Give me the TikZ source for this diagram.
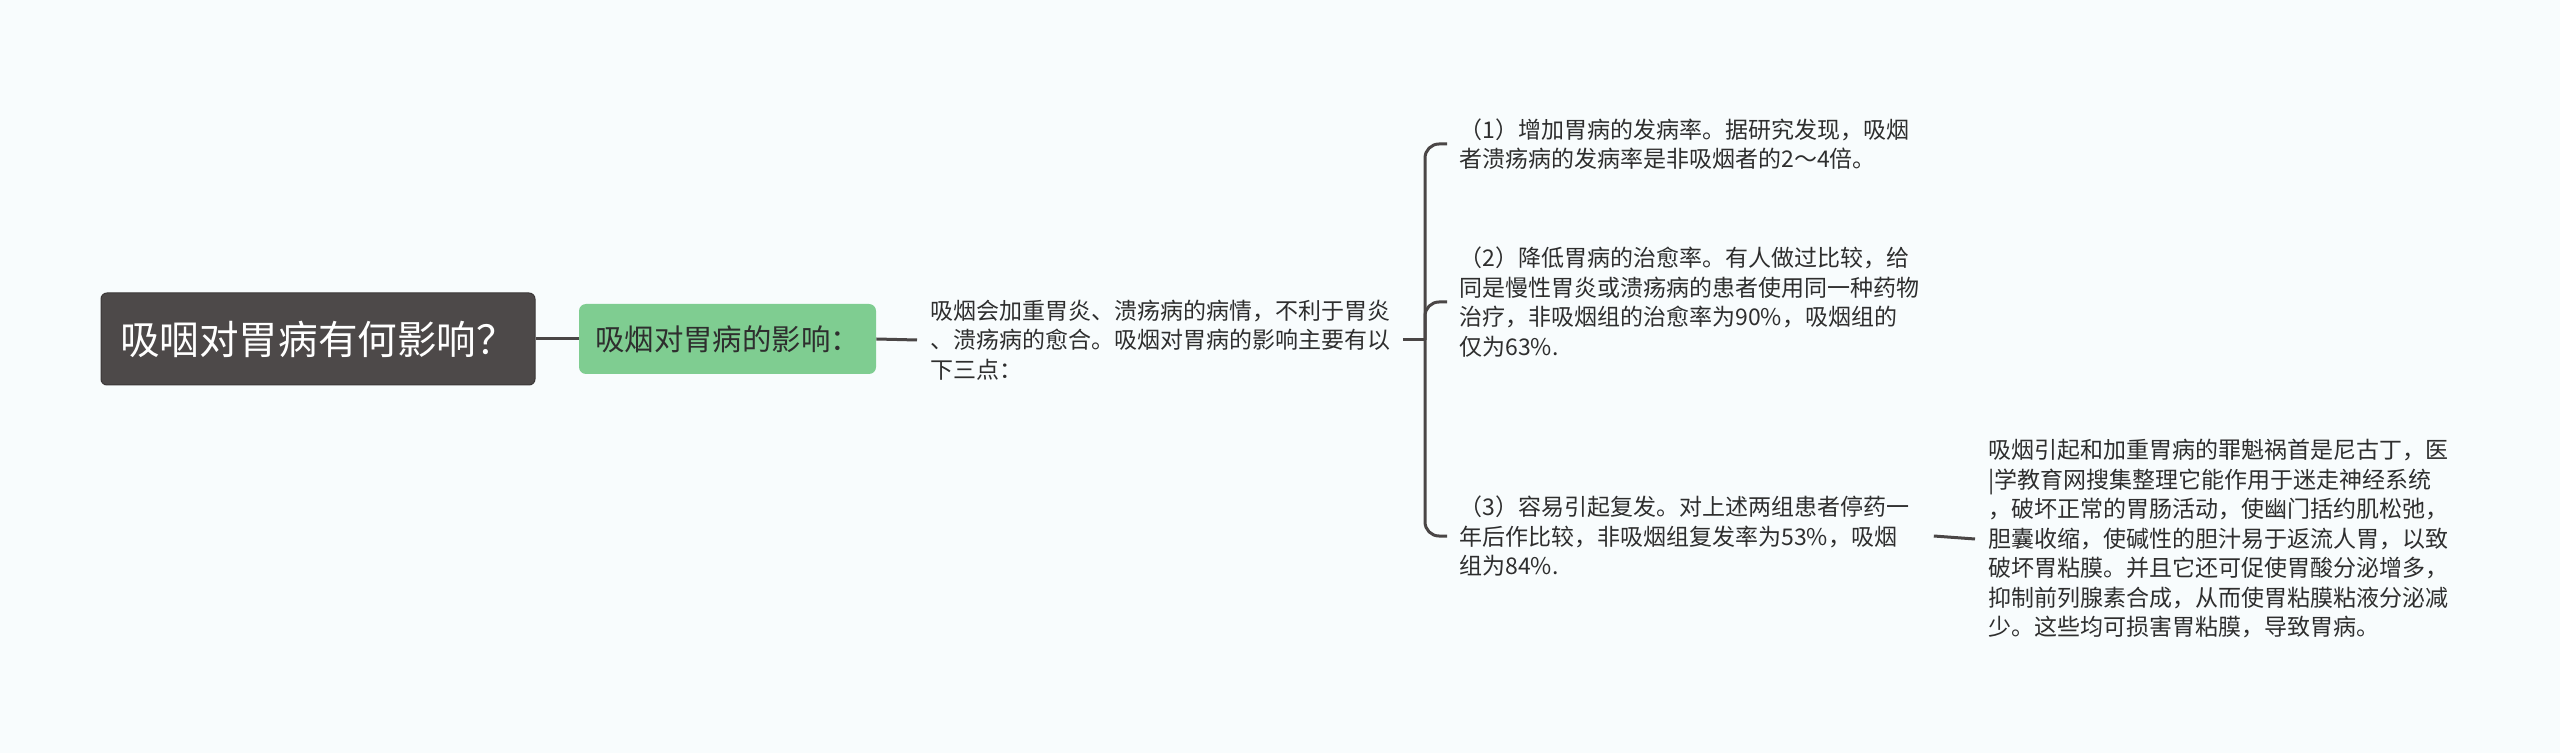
\documentclass[tikz,border=0pt]{standalone}
\usepackage{fontspec}
\setmainfont{Noto Sans CJK SC}
\definecolor{bgc}{HTML}{F8FCFD}
\definecolor{rootfill}{HTML}{4D4949}
\definecolor{rootdraw}{HTML}{3C3838}
\definecolor{greenfill}{HTML}{7FCD91}
\definecolor{linec}{HTML}{4A4646}
\definecolor{txtc}{HTML}{2E2E2E}
\begin{document}
\begin{tikzpicture}[x=0.5pt,y=-0.5pt,
  rootbox/.style={rectangle, rounded corners=3pt, fill=rootfill, draw=rootdraw, line width=0.5pt,
    minimum width=217pt, minimum height=46pt, inner sep=0pt, text=white,
    font=\fontsize{19.8pt}{23pt}\selectfont},
  greenbox/.style={rectangle, rounded corners=3.5pt, fill=greenfill, draw=none,
    minimum width=148.5pt, minimum height=35pt, inner sep=0pt, text=txtc,
    font=\fontsize{14.7pt}{17pt}\selectfont},
  bodytext/.style={anchor=west, inner sep=0pt, text width=230pt, align=left, text=txtc,
    font=\fontsize{11.5pt}{14.75pt}\selectfont},
  conn/.style={draw=linec, line width=1.5pt},
  brk/.style={conn, rounded corners=7pt}]
\useasboundingbox[fill=bgc] (0,0) rectangle (2560,753);
\node[rootbox] (root) at (318,339) {吸咽对胃病有何影响？};
\node[greenbox] (green) at (727.5,339) {吸烟对胃病的影响：};
\node[bodytext] (t3) at (930,340) {吸烟会加重胃炎、溃疡病的病情，不利于胃炎\\、溃疡病的愈合。吸烟对胃病的影响主要有以\\下三点：};
\node[bodytext] (n1) at (1459,144) {（1）增加胃病的发病率。据研究发现，吸烟\\者溃疡病的发病率是非吸烟者的2～4倍。};
\node[bodytext] (n2) at (1459,302) {（2）降低胃病的治愈率。有人做过比较，给\\同是慢性胃炎或溃疡病的患者使用同一种药物\\治疗，非吸烟组的治愈率为90\%，吸烟组的\\仅为63\%.};
\node[bodytext] (n3) at (1459,536) {（3）容易引起复发。对上述两组患者停药一\\年后作比较，非吸烟组复发率为53\%，吸烟\\组为84\%.};
\node[bodytext] (n4) at (1988,539) {吸烟引起和加重胃病的罪魁祸首是尼古丁，医\\|学教育网搜集整理它能作用于迷走神经系统\\，破坏正常的胃肠活动，使幽门括约肌松弛，\\胆囊收缩，使碱性的胆汁易于返流人胃，以致\\破坏胃粘膜。并且它还可促使胃酸分泌增多，\\抑制前列腺素合成，从而使胃粘膜粘液分泌减\\少。这些均可损害胃粘膜，导致胃病。};
\coordinate (bx) at (1425,340);
\draw[conn] (root.east) -- (green.west);
\draw[conn] (green.east) -- ([xshift=-6.5pt]t3.west);
\draw[conn] ([xshift=6pt]t3.east) -- (bx);
\draw[brk] ([xshift=-6pt]n1.west) -| (bx) |- ([xshift=-6pt]n3.west);
\draw[brk] (bx) |- ([xshift=-6pt]n2.west);
\draw[conn] ([xshift=7pt]n3.east) -- ([xshift=-6.5pt]n4.west);
\end{tikzpicture}
\end{document}
